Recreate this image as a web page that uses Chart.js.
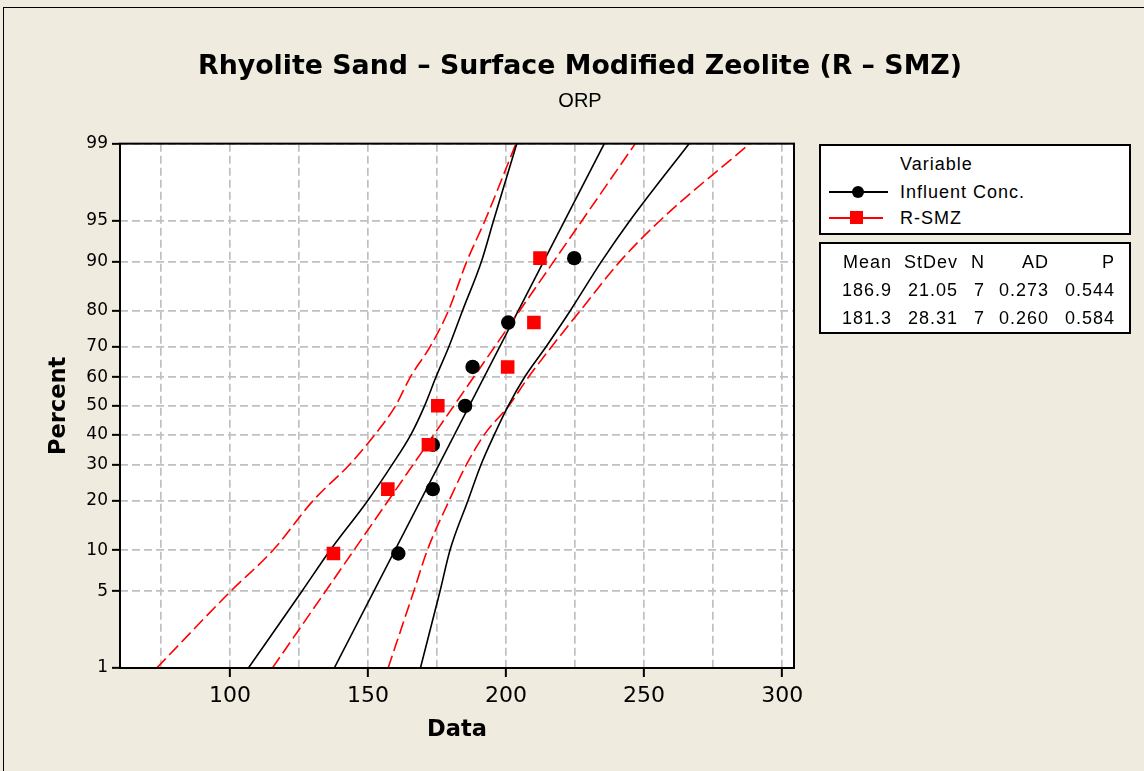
<!DOCTYPE html>
<html>
<head>
<meta charset="utf-8">
<title>Probability Plot - ORP</title>
<script src="https://cdn.jsdelivr.net/npm/chart.js@4.4.1/dist/chart.umd.min.js"></script>
<style>
  html, body { margin: 0; padding: 0; background: #efebdf; }
  #wrap { position: relative; width: 1144px; height: 771px; overflow: hidden; background: #efebdf;
    font-family: "Liberation Sans", Arial, sans-serif; color: #000; }
  #frame { position: absolute; left: 3px; top: 7px; width: 1200px; height: 800px; border: 1px solid #000; }
  #chart { position: absolute; left: 0; top: 0; }
  .box { position: absolute; left: 819px; width: 312px; box-sizing: border-box; border: 2px solid #000; background: #fff; }
  .txt { position: absolute; font-size: 18px; line-height: 20px; letter-spacing: 1px; white-space: nowrap; }
  .num { text-align: right; width: 120px; }
  .swatch { position: absolute; height: 2px; }
  .mark { position: absolute; }
</style>
</head>
<body>
<div id="wrap">
  <div id="frame"></div>
  <canvas id="chart" width="1144" height="771"></canvas>
  <div id="legend"></div>
  <div id="stats"></div>
</div>
<script>
// chart data
const titleText = "Rhyolite Sand \u2013 Surface Modified Zeolite (R \u2013 SMZ)";
const subtitleText = "ORP";
const percentTicks = [1, 5, 10, 20, 30, 40, 50, 60, 70, 80, 90, 95, 99];
const xGridTicks = [75, 100, 125, 150, 175, 200, 225, 250, 275, 300];
const seriesNames = ["Influent Conc.", "R-SMZ"];

// plotted points (percent = plotting position)
const plotPercent = [9.5, 23.0, 36.5, 50.0, 63.5, 77.0, 90.5];
const influentData = [161.0, 173.5, 173.5, 185.2, 187.9, 200.8, 224.7];
const rsmzData = [137.5, 157.2, 171.9, 175.3, 200.6, 210.1, 212.3];

// fitted lines, ends at 1% and 99%
const fitPercent = [1, 99];
const influentFit = [137.8, 235.6];
const rsmzFit = [115.4, 246.8];

// 95% confidence bands
const bandPercent = [1, 5, 10, 20, 30, 40, 50, 60, 70, 80, 90, 95, 99];
const influentLower = [106.7, 126.1, 136.3, 149.9, 158.7, 165.6, 170.5, 174.6, 179.3, 184.2, 191.1, 195.5, 203.9];
const influentUpper = [169.0, 176.1, 179.7, 186.2, 190.9, 195.8, 200.8, 206.7, 214.5, 223.2, 234.6, 244.9, 266.3];
const rsmzLower = [73.5, 100.3, 115.6, 130.1, 143.2, 152.6, 160.0, 165.3, 172.5, 179.1, 185.8, 192.4, 203.6];
const rsmzUpper = [157.3, 166.6, 171.5, 179.4, 185.6, 192.2, 201.0, 208.1, 216.5, 226.8, 241.3, 255.8, 288.3];

// stats table
const statHeaders = ["Mean", "StDev", "N", "AD", "P"];
const statRows = [
  ["186.9", "21.05", "7", "0.273", "0.544"],
  ["181.3", "28.31", "7", "0.260", "0.584"]
];

// inverse normal cdf (Acklam)
function probit(p) {
  const a = [-3.969683028665376e+01, 2.209460984245205e+02, -2.759285104469687e+02, 1.383577518672690e+02, -3.066479806614716e+01, 2.506628277459239e+00];
  const b = [-5.447609879822406e+01, 1.615858368580409e+02, -1.556989798598866e+02, 6.680131188771972e+01, -1.328068155288572e+01];
  const c = [-7.784894002430293e-03, -3.223964580411365e-01, -2.400758277161838e+00, -2.549732539343734e+00, 4.374664141464968e+00, 2.938163982698783e+00];
  const d = [7.784695709041462e-03, 3.224671290700398e-01, 2.445134137142996e+00, 3.754408661907416e+00];
  const pl = 0.02425;
  let q, r;
  if (p < pl) {
    q = Math.sqrt(-2 * Math.log(p));
    return (((((c[0] * q + c[1]) * q + c[2]) * q + c[3]) * q + c[4]) * q + c[5]) / ((((d[0] * q + d[1]) * q + d[2]) * q + d[3]) * q + 1);
  }
  if (p > 1 - pl) {
    q = Math.sqrt(-2 * Math.log(1 - p));
    return -(((((c[0] * q + c[1]) * q + c[2]) * q + c[3]) * q + c[4]) * q + c[5]) / ((((d[0] * q + d[1]) * q + d[2]) * q + d[3]) * q + 1);
  }
  q = p - 0.5;
  r = q * q;
  return (((((a[0] * r + a[1]) * r + a[2]) * r + a[3]) * r + a[4]) * r + a[5]) * q / (((((b[0] * r + b[1]) * r + b[2]) * r + b[3]) * r + b[4]) * r + 1);
}

// normal probability axis
class ProbabilityScale extends Chart.Scale {
  determineDataLimits() {
    this.min = this.options.min;
    this.max = this.options.max;
  }
  buildTicks() {
    return percentTicks.map(function (v) { return { value: v }; });
  }
  configure() {
    super.configure();
    this._zStart = probit(this.min / 100);
    this._zRange = probit(this.max / 100) - this._zStart;
  }
  getLabelForValue(v) {
    return String(v);
  }
  getPixelForValue(v) {
    return this.getPixelForDecimal((probit(v / 100) - this._zStart) / this._zRange);
  }
  getValueForPixel(px) {
    const dec = this.getDecimalForPixel(px);
    const z = this._zStart + dec * this._zRange;
    let lo = 0.0001, hi = 0.9999;
    for (let i = 0; i < 50; i++) {
      const mid = (lo + hi) / 2;
      if (probit(mid) < z) lo = mid; else hi = mid;
    }
    return lo * 100;
  }
}
ProbabilityScale.id = "probability";
ProbabilityScale.defaults = {};
Chart.register(ProbabilityScale);

function pairs(xs, ps) {
  return xs.map(function (x, i) { return { x: x, y: ps[i] }; });
}

const plotFrame = {
  id: "plotFrame",
  beforeDraw: function (chart) {
    const a = chart.chartArea;
    const ctx = chart.ctx;
    ctx.save();
    ctx.fillStyle = "#fff";
    ctx.fillRect(a.left, a.top, a.right - a.left, a.bottom - a.top);
    ctx.restore();
  },
  afterDatasetsDraw: function (chart) {
    const a = chart.chartArea;
    const ctx = chart.ctx;
    ctx.save();
    ctx.strokeStyle = "#000";
    ctx.lineWidth = 2;
    ctx.strokeRect(a.left, a.top, a.right - a.left, a.bottom - a.top);
    ctx.restore();
  }
};

const RED = "#ff0000";
const BLACK = "#000000";
const WIDE = '"DejaVu Sans", Verdana, sans-serif';

function bandLine(xs, color, dashed) {
  return {
    data: pairs(xs, bandPercent),
    showLine: true,
    borderColor: color,
    borderWidth: 1.6,
    borderDash: dashed ? [13, 5] : [],
    pointRadius: 0,
    cubicInterpolationMode: "monotone",
    order: 5
  };
}

Chart.defaults.font.family = '"Liberation Sans", Arial, sans-serif';
Chart.defaults.color = "#000";

const ctx = document.getElementById("chart");
const myChart = new Chart(ctx, {
  type: "scatter",
  data: {
    datasets: [
      {
        label: seriesNames[1],
        data: pairs(rsmzData, plotPercent),
        pointStyle: "rect",
        pointRadius: 9.6,
        backgroundColor: RED,
        borderColor: RED,
        borderWidth: 0,
        order: 0
      },
      {
        label: seriesNames[0],
        data: pairs(influentData, plotPercent),
        pointStyle: "circle",
        pointRadius: 7.2,
        backgroundColor: BLACK,
        borderColor: BLACK,
        borderWidth: 0,
        order: 1
      },
      {
        data: pairs(influentFit, fitPercent),
        showLine: true,
        borderColor: BLACK,
        borderWidth: 1.6,
        pointRadius: 0,
        order: 4
      },
      {
        data: pairs(rsmzFit, fitPercent),
        showLine: true,
        borderColor: RED,
        borderWidth: 1.6,
        borderDash: [13, 5],
        pointRadius: 0,
        order: 3
      },
      bandLine(influentLower, BLACK, false),
      bandLine(influentUpper, BLACK, false),
      bandLine(rsmzLower, RED, true),
      bandLine(rsmzUpper, RED, true)
    ]
  },
  options: {
    responsive: false,
    animation: false,
    events: [],
    layout: { padding: { left: 16, top: 0, right: 0, bottom: 0 } },
    plugins: {
      legend: { display: false },
      tooltip: { enabled: false },
      title: {
        display: true,
        text: titleText,
        color: "#000",
        font: { family: WIDE, size: 26.8, weight: "bold" },
        padding: { top: 51, bottom: 0 }
      },
      subtitle: {
        display: true,
        text: subtitleText,
        color: "#000",
        font: { size: 20, weight: "normal" },
        padding: { top: 6, bottom: 30.5 }
      }
    },
    scales: {
      x: {
        type: "linear",
        position: "bottom",
        min: 60.2,
        max: 304.3,
        afterBuildTicks: function (scale) {
          scale.ticks = xGridTicks.map(function (v) { return { value: v }; });
        },
        afterFit: function (scale) {
          scale.height = 103;
        },
        grid: {
          color: "#c0c0c0",
          lineWidth: 1.7,
          tickLength: 9,
          tickWidth: 2,
          tickColor: function (c) {
            return c.tick && c.tick.value % 50 === 0 ? "#000" : "rgba(0,0,0,0)";
          }
        },
        border: { display: false, dash: [8, 4] },
        ticks: {
          autoSkip: false,
          maxRotation: 0,
          padding: 6,
          font: { family: WIDE, size: 22 },
          callback: function (v) { return v % 50 === 0 ? String(v) : ""; }
        },
        title: {
          display: true,
          text: "Data",
          font: { family: WIDE, size: 22.5, weight: "bold" },
          padding: { top: 0, bottom: 27 }
        }
      },
      y: {
        type: "probability",
        position: "left",
        min: 1,
        max: 99,
        afterFit: function (scale) {
          scale.width = 104;
        },
        grid: {
          color: "#c0c0c0",
          lineWidth: 1.7,
          tickLength: 8,
          tickWidth: 2,
          tickColor: "#000"
        },
        border: { display: false, dash: [8, 4] },
        ticks: {
          autoSkip: false,
          padding: 4,
          font: { family: WIDE, size: 17 }
        },
        title: {
          display: true,
          text: "Percent",
          font: { family: WIDE, size: 22.5, weight: "bold" },
          padding: { top: 30, bottom: 0 }
        }
      },
      side: {
        type: "linear",
        position: "right",
        afterFit: function (scale) {
          scale.width = 350;
        },
        grid: { display: false, drawOnChartArea: false },
        border: { display: false },
        ticks: { display: false }
      }
    }
  },
  plugins: [plotFrame]
});

// legend box
function addDiv(parent, cls, css, text) {
  const el = document.createElement("div");
  el.className = cls;
  el.style.cssText = css;
  if (text !== undefined) el.textContent = text;
  parent.appendChild(el);
  return el;
}

const legend = addDiv(document.getElementById("legend"), "box", "top:144px;height:91px;");
addDiv(legend, "txt", "left:79px;top:8px;", "Variable");
addDiv(legend, "swatch", "left:8px;top:45px;width:59px;background:#000;");
addDiv(legend, "mark", "left:31px;top:40px;width:12px;height:12px;border-radius:50%;background:#000;");
addDiv(legend, "txt", "left:79px;top:36px;", seriesNames[0]);
addDiv(legend, "swatch", "left:8px;top:71px;width:54px;background:#f00;");
addDiv(legend, "mark", "left:29px;top:65px;width:13px;height:13px;background:#f00;");
addDiv(legend, "txt", "left:79px;top:62px;", seriesNames[1]);

// stats box
const colRight = [71, 137, 164, 228, 294];
const stats = addDiv(document.getElementById("stats"), "box", "top:242px;height:92px;");
statHeaders.forEach(function (h, i) {
  addDiv(stats, "txt num", "left:" + (colRight[i] - 120) + "px;top:8px;", h);
});
statRows.forEach(function (row, r) {
  row.forEach(function (v, i) {
    addDiv(stats, "txt num", "left:" + (colRight[i] - 120) + "px;top:" + (36 + r * 28) + "px;", v);
  });
});
</script>
</body>
</html>
